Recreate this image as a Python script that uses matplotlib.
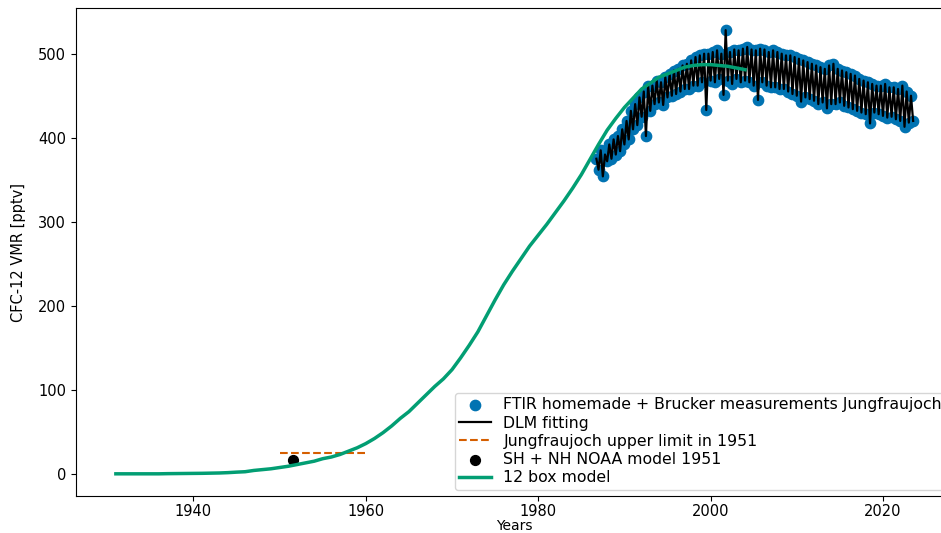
import numpy as np
import matplotlib
matplotlib.use("Agg")
import matplotlib.pyplot as plt

# 12 box model (annual values, pptv)
box_years = list(range(1931, 2005))
box_vmr = [0, 0, 0, 0, 0, 0, 0.2, 0.3, 0.4, 0.5,
           0.6, 0.8, 1, 1.4, 2, 2.5, 4, 5, 6, 7.5,
           9, 11, 13, 15, 18, 20, 23, 27, 31, 36,
           42, 49, 57, 66, 74, 84, 94, 104, 113, 124,
           138, 153, 169, 188, 207, 225, 241, 256, 271, 284,
           297, 311, 325, 340, 356, 374, 392, 409, 423, 436,
           447, 458, 465, 472, 476, 480, 484, 486, 487, 487,
           486, 485, 483, 481]

# FTIR measurements at Jungfraujoch, quarterly samples from 1986.75
ftir_start = 1986.75
ftir_vmr = [375, 362,
            385, 354, 380, 372,
            392, 375, 398, 380,
            402, 384, 410, 392,
            420, 398, 432, 410,
            440, 415, 448, 425,
            455, 402, 462, 432,
            462, 440, 468, 442,
            466, 439, 472, 448,
            476, 450, 480, 452,
            482, 455, 486, 458,
            488, 458, 492, 462,
            496, 462, 498, 466,
            500, 433, 500, 468,
            502, 466, 504, 470,
            500, 451, 528, 468,
            502, 464, 505, 470,
            504, 466, 506, 468,
            508, 466, 505, 462,
            504, 445, 506, 466,
            505, 462, 502, 460,
            504, 460, 502, 458,
            500, 458, 498, 455,
            498, 452, 496, 450,
            494, 443, 492, 448,
            490, 446, 488, 444,
            486, 440, 484, 442,
            482, 435, 486, 440,
            488, 440, 482, 442,
            480, 438, 478, 436,
            476, 434, 474, 432,
            470, 430, 468, 428,
            466, 417, 464, 430,
            462, 428, 462, 426,
            464, 424, 460, 425,
            460, 422, 458, 420,
            462, 413, 455, 418,
            450, 420]
ftir_years = ftir_start + 0.25 * np.arange(len(ftir_vmr))

# Jungfraujoch upper limit in 1951 and NOAA model value
limit_years = [1950, 1960]
limit_vmr = 25
noaa_year = 1951.5
noaa_vmr = 16

fig = plt.figure(figsize=(9.41, 5.33), dpi=100)
# axes extend past the right edge like the cropped original
ax = fig.add_axes([76 / 941, 37 / 533, 877 / 941, 488 / 533])

ax.scatter(ftir_years, ftir_vmr, s=55, color="#0173b2",
           label="FTIR homemade + Brucker measurements Jungfraujoch", zorder=2)
ax.plot(ftir_years, ftir_vmr, color="black", lw=1.6, label="DLM fitting", zorder=3)
ax.hlines(limit_vmr, limit_years[0], limit_years[1], colors="#d55e00",
          linestyles="--", lw=1.5, label="Jungfraujoch upper limit in 1951", zorder=3)
ax.scatter([noaa_year], [noaa_vmr], s=50, color="black",
           label="SH + NH NOAA model 1951", zorder=4)
ax.plot(box_years, box_vmr, color="#029e73", lw=2.5, label="12 box model", zorder=4)

ax.set_xlabel("Years", fontsize=10, labelpad=0)
ax.set_ylabel("CFC-12 VMR [pptv]", fontsize=10.5, labelpad=9)
ax.set_xticks([1940, 1960, 1980, 2000, 2020])
ax.set_yticks([0, 100, 200, 300, 400, 500])
ax.tick_params(labelsize=10.5)
ax.tick_params(axis="x", pad=2)
ax.legend(loc="lower right", fontsize=11.3, labelspacing=0.2,
          borderpad=0.3, borderaxespad=0.4)

fig.savefig("out.png", dpi=100)
